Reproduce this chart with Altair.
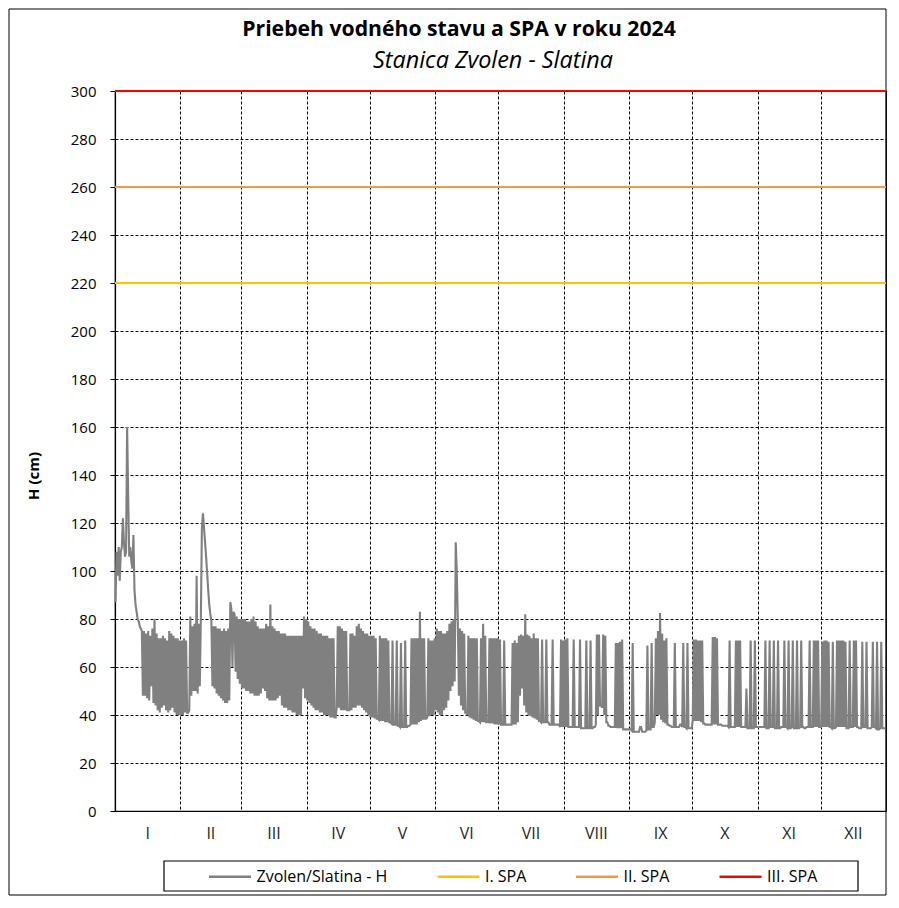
import altair as alt
import pandas as pd

MONTHS = ["I", "II", "III", "IV", "V", "VI", "VII", "VIII", "IX", "X", "XI", "XII"]
MONTH_DAYS = [31, 29, 31, 30, 31, 30, 31, 31, 30, 31, 30, 31]

# Jan-Jun: two readings per day (first = trough / morning, second = peak / afternoon), cm
jan_a = [87, 98, 96, 110, 112, 108, 132, 110, 101, 92, 83, 79, 76, 48, 48, 47, 46, 52, 45, 44,
         42, 41, 43, 44, 42, 41, 42, 43, 41, 40, 40]
jan_b = [108, 110, 108, 122, 106, 160, 106, 104, 115, 86, 80, 77, 75, 75, 74, 75, 73, 76, 80, 74,
         72, 72, 73, 72, 71, 75, 74, 73, 72, 72, 71]
feb_a = [40, 40, 41, 41, 42, 48, 50, 50, 49, 52, 118, 118, 106, 92, 82, 52, 51, 49, 48, 47,
         46, 45, 45, 46, 84, 83, 58, 55, 53]
feb_b = [71, 72, 71, 41, 81, 77, 78, 98, 78, 80, 124, 112, 99, 86, 79, 77, 77, 76, 76, 75,
         76, 75, 76, 87, 60, 82, 81, 80, 80]
mar_a = [51, 51, 50, 50, 49, 49, 48, 48, 48, 49, 51, 50, 47, 46, 46, 46, 46, 47, 48, 44,
         43, 43, 42, 42, 41, 41, 40, 40, 40, 51, 47]
mar_b = [80, 80, 79, 79, 80, 81, 79, 77, 76, 76, 76, 78, 77, 86, 77, 76, 75, 75, 74, 74,
         74, 73, 73, 73, 73, 73, 73, 73, 73, 81, 80]
apr_a = [46, 45, 44, 43, 42, 42, 41, 41, 40, 40, 40, 39, 39, 39, 43, 43, 42, 42, 42, 42,
         42, 42, 43, 43, 44, 44, 43, 42, 41, 40]
apr_b = [79, 77, 76, 76, 75, 74, 74, 73, 73, 73, 72, 72, 72, 39, 77, 77, 76, 75, 75, 42,
         74, 74, 73, 77, 78, 76, 75, 74, 74, 73]
may_a = [39, 39, 38.5, 38.5, 38, 37.5, 37.5, 37, 37, 37, 36.5, 36, 36, 35.5, 35, 35, 35, 35, 35.5, 36,
         36, 36, 36, 37, 37.5, 38, 38.5, 39, 39.5, 40, 40]
may_b = [73, 73, 72, 38.5, 73, 72, 72, 72, 71, 37, 71, 36, 71, 35.5, 70, 35, 71, 35, 35.5, 72,
         72, 72, 72, 83, 72, 72, 38.5, 72, 71, 71, 72]
jun_a = [42, 41, 40, 40, 42, 43, 46, 50, 52, 54, 100, 48, 44, 42, 41, 40, 39, 38.5, 38, 37.5,
         37.5, 37, 37, 37, 37, 37, 36.5, 36.5, 36, 36]
jun_b = [76, 75, 75, 74, 74, 75, 78, 79, 80, 112, 78, 76, 75, 74, 41, 73, 72, 72, 72, 72,
         37.5, 72, 78, 73, 37, 72, 72, 72, 72, 72]

# Jul-Dec: daily base level and the peaking releases {day of month: level}, cm
jul_base = [36, 36, 36, 36, 36, 36, 36, 36, 36, 37, 48, 51, 44, 41, 40, 39.5, 39, 38.5, 38, 37.5,
            37, 37, 37, 37, 36, 36, 36, 36, 36, 35, 35]
jul_peaks = {1: 71.5, 3: 71, 7: 70, 8: 71, 9: 70, 10: 73, 11: 73.5, 12: 73, 13: 82, 14: 73.5,
             15: 73, 16: 72, 17: 74, 18: 72, 19: 72, 21: 71.5, 23: 71.5, 26: 71.5, 30: 71.5, 31: 71}
aug_base = [35, 35, 35, 35, 35, 35, 35, 35, 34.5, 34.5, 34.5, 34.5, 34.5, 34.5, 35, 36, 40, 44, 43, 40,
            37, 35.5, 35, 35, 35, 34.5, 34.5, 34.5, 34, 34, 34]
aug_peaks = {1: 71.5, 2: 72, 5: 71.5, 8: 71.5, 11: 71, 13: 71, 16: 73.5, 17: 73.5, 19: 73.5, 20: 73,
             25: 70, 26: 70, 27: 70.5, 28: 71.5}
sep_base = [34, 33.5, 33, 33, 33, 35, 33, 33, 33.5, 34, 34, 35, 37, 40, 40, 38, 37, 36.5, 36, 35.5,
            35, 35, 35, 35, 36, 35, 35, 34.5, 34.5, 34.5]
sep_peaks = {2: 70, 9: 69, 11: 70, 13: 72, 14: 75, 15: 82.5, 16: 74, 17: 71, 18: 72, 22: 70, 26: 70, 28: 70}
oct_base = [37.5, 37.5, 37.5, 37.5, 37, 36.5, 36, 36, 36, 36, 36, 36, 36, 36, 35.5, 35.5, 35.5, 35, 35, 35,
            35, 35, 35, 35, 35, 35, 34.5, 34.5, 34.5, 34.5, 35]
oct_peaks = {1: 71.5, 2: 71.5, 3: 71, 4: 71, 5: 71, 10: 72.5, 11: 72.5, 12: 72, 18: 71, 21: 71,
             22: 71, 23: 71, 26: 51, 28: 71, 30: 71}
nov_base = [35, 35, 35, 35, 34.5, 34.5, 35, 35, 34.5, 34.5, 34.5, 35, 35, 35, 34.5, 34.5, 35, 34.5, 34.5, 34.5,
            35, 35, 34.5, 35, 35, 35, 35, 35, 35, 35]
nov_peaks = {4: 71, 6: 71, 8: 71, 10: 71, 13: 71, 15: 71, 17: 71, 19: 71, 21: 71, 25: 71, 27: 71, 28: 71, 29: 71}
dec_base = [35, 35, 35, 35, 35, 34.5, 34.5, 35, 35, 35, 35, 35, 34.5, 34.5, 35, 35, 35, 35, 34.5, 34.5,
            35, 35, 34.5, 34.5, 35, 35, 34.5, 34, 34.5, 34.5, 34.5]
dec_peaks = {1: 70.5, 2: 71, 3: 71, 4: 70.5, 6: 70.5, 8: 71, 9: 71, 10: 71, 11: 71, 12: 70.5, 14: 71,
             16: 71, 17: 71, 20: 70.5, 22: 70.5, 25: 70.5, 27: 70.5, 29: 70.5}

SERIES = ["Zvolen/Slatina - H", "I. SPA", "II. SPA", "III. SPA"]
COLORS = ["#808080", "#FFC000", "#F79646", "#FF0000"]
SPA_LEVELS = [220, 260, 300]

FONT = "Open Sans"

# ---- build tables -------------------------------------------------------
rows = []
start = 0
for a_list, b_list in [(jan_a, jan_b), (feb_a, feb_b), (mar_a, mar_b),
                       (apr_a, apr_b), (may_a, may_b), (jun_a, jun_b)]:
    for i, (a, b) in enumerate(zip(a_list, b_list)):
        rows.append({"day": start + i + 0.25, "H": a, "series": SERIES[0]})
        rows.append({"day": start + i + 0.75, "H": b, "series": SERIES[0]})
    start += len(a_list)
for base, peaks in [(jul_base, jul_peaks), (aug_base, aug_peaks), (sep_base, sep_peaks),
                    (oct_base, oct_peaks), (nov_base, nov_peaks), (dec_base, dec_peaks)]:
    for i, v in enumerate(base):
        rows.append({"day": start + i + 0.25, "H": v, "series": SERIES[0]})
        rows.append({"day": start + i + 0.75, "H": peaks.get(i + 1, v), "series": SERIES[0]})
    start += len(base)
level = pd.DataFrame(rows)

month_start = [sum(MONTH_DAYS[:i]) for i in range(12)]
months = pd.DataFrame({"m": MONTHS,
                       "mid": [s + d / 2 for s, d in zip(month_start, MONTH_DAYS)]})
spa = pd.DataFrame({"series": SERIES[1:], "H": SPA_LEVELS})

W, H = 771, 720

color = alt.Color(
    "series:N",
    scale=alt.Scale(domain=SERIES, range=COLORS),
    legend=alt.Legend(
        title=None, orient="none", legendX=103, legendY=773.7, direction="horizontal",
        columns=4, symbolType="M-2,0H2", symbolSize=441, symbolStrokeWidth=2.6,
        symbolFillColor="transparent",
        labelFont=FONT, labelFontSize=16, labelColor="black", labelOffset=14.5,
        columnPadding=43.5, padding=0, labelLimit=300,
    ),
)

x_enc = alt.X(
    "day:Q",
    scale=alt.Scale(domain=[0, 366], nice=False, zero=False),
    axis=alt.Axis(values=month_start[1:], grid=True, gridColor="black", gridDash=[3, 2],
                  gridWidth=1, labels=False, ticks=False, domainColor="black",
                  domainWidth=1.2, title=None),
)
y_enc = alt.Y(
    "H:Q",
    scale=alt.Scale(domain=[0, 300], nice=False),
    axis=alt.Axis(values=list(range(0, 301, 20)), grid=True, gridColor="black",
                  gridDash=[3, 2], gridWidth=1, tickSize=5, tickColor="black",
                  domainColor="black", domainWidth=1.2, labelFont=FONT, labelFontSize=15,
                  labelColor="black", labelPadding=14, title=None),
)

line = alt.Chart(level).mark_line(strokeWidth=2.1, interpolate="linear").encode(
    x=x_enc, y=y_enc, color=color
)
rules = alt.Chart(spa).mark_rule(strokeWidth=2.2).encode(y="H:Q", color="series:N")

month_text = alt.Chart(months).mark_text(
    font=FONT, fontSize=16, color="#262626", baseline="middle", align="center"
).encode(x="mid:Q", y=alt.value(743), text="m:N")

one = pd.DataFrame({"a": [0]})
title = alt.Chart(one).mark_text(
    text="Priebeh vodného stavu a SPA v roku 2024", font=FONT, fontSize=21.2,
    fontWeight="bold", color="black", align="center", baseline="middle"
).encode(x=alt.value(344), y=alt.value(-61))
subtitle = alt.Chart(one).mark_text(
    text="Stanica Zvolen - Slatina", font=FONT, fontSize=23.4, fontStyle="italic",
    color="black", align="center", baseline="middle"
).encode(x=alt.value(378), y=alt.value(-30))
ytitle = alt.Chart(one).mark_text(
    text="H (cm)", font=FONT, fontSize=15, fontWeight="bold", color="black",
    align="center", baseline="middle", angle=270
).encode(x=alt.value(-81), y=alt.value(385))
legend_box = alt.Chart(one).mark_rect(filled=False, stroke="black", strokeWidth=1.2).encode(
    x=alt.value(49), x2=alt.value(743), y=alt.value(770), y2=alt.value(800)
)
frame = alt.Chart(one).mark_rect(filled=False, stroke="black", strokeWidth=1).encode(
    x=alt.value(-106), x2=alt.value(771), y=alt.value(-82), y2=alt.value(804)
)

chart = alt.layer(frame, legend_box, line, rules, month_text, title, subtitle, ytitle).properties(
    width=W, height=H, padding=0, background="white"
).configure_view(stroke="black", strokeWidth=1.2)

chart.save("out.html", embed_options={"renderer": "svg", "actions": False})
